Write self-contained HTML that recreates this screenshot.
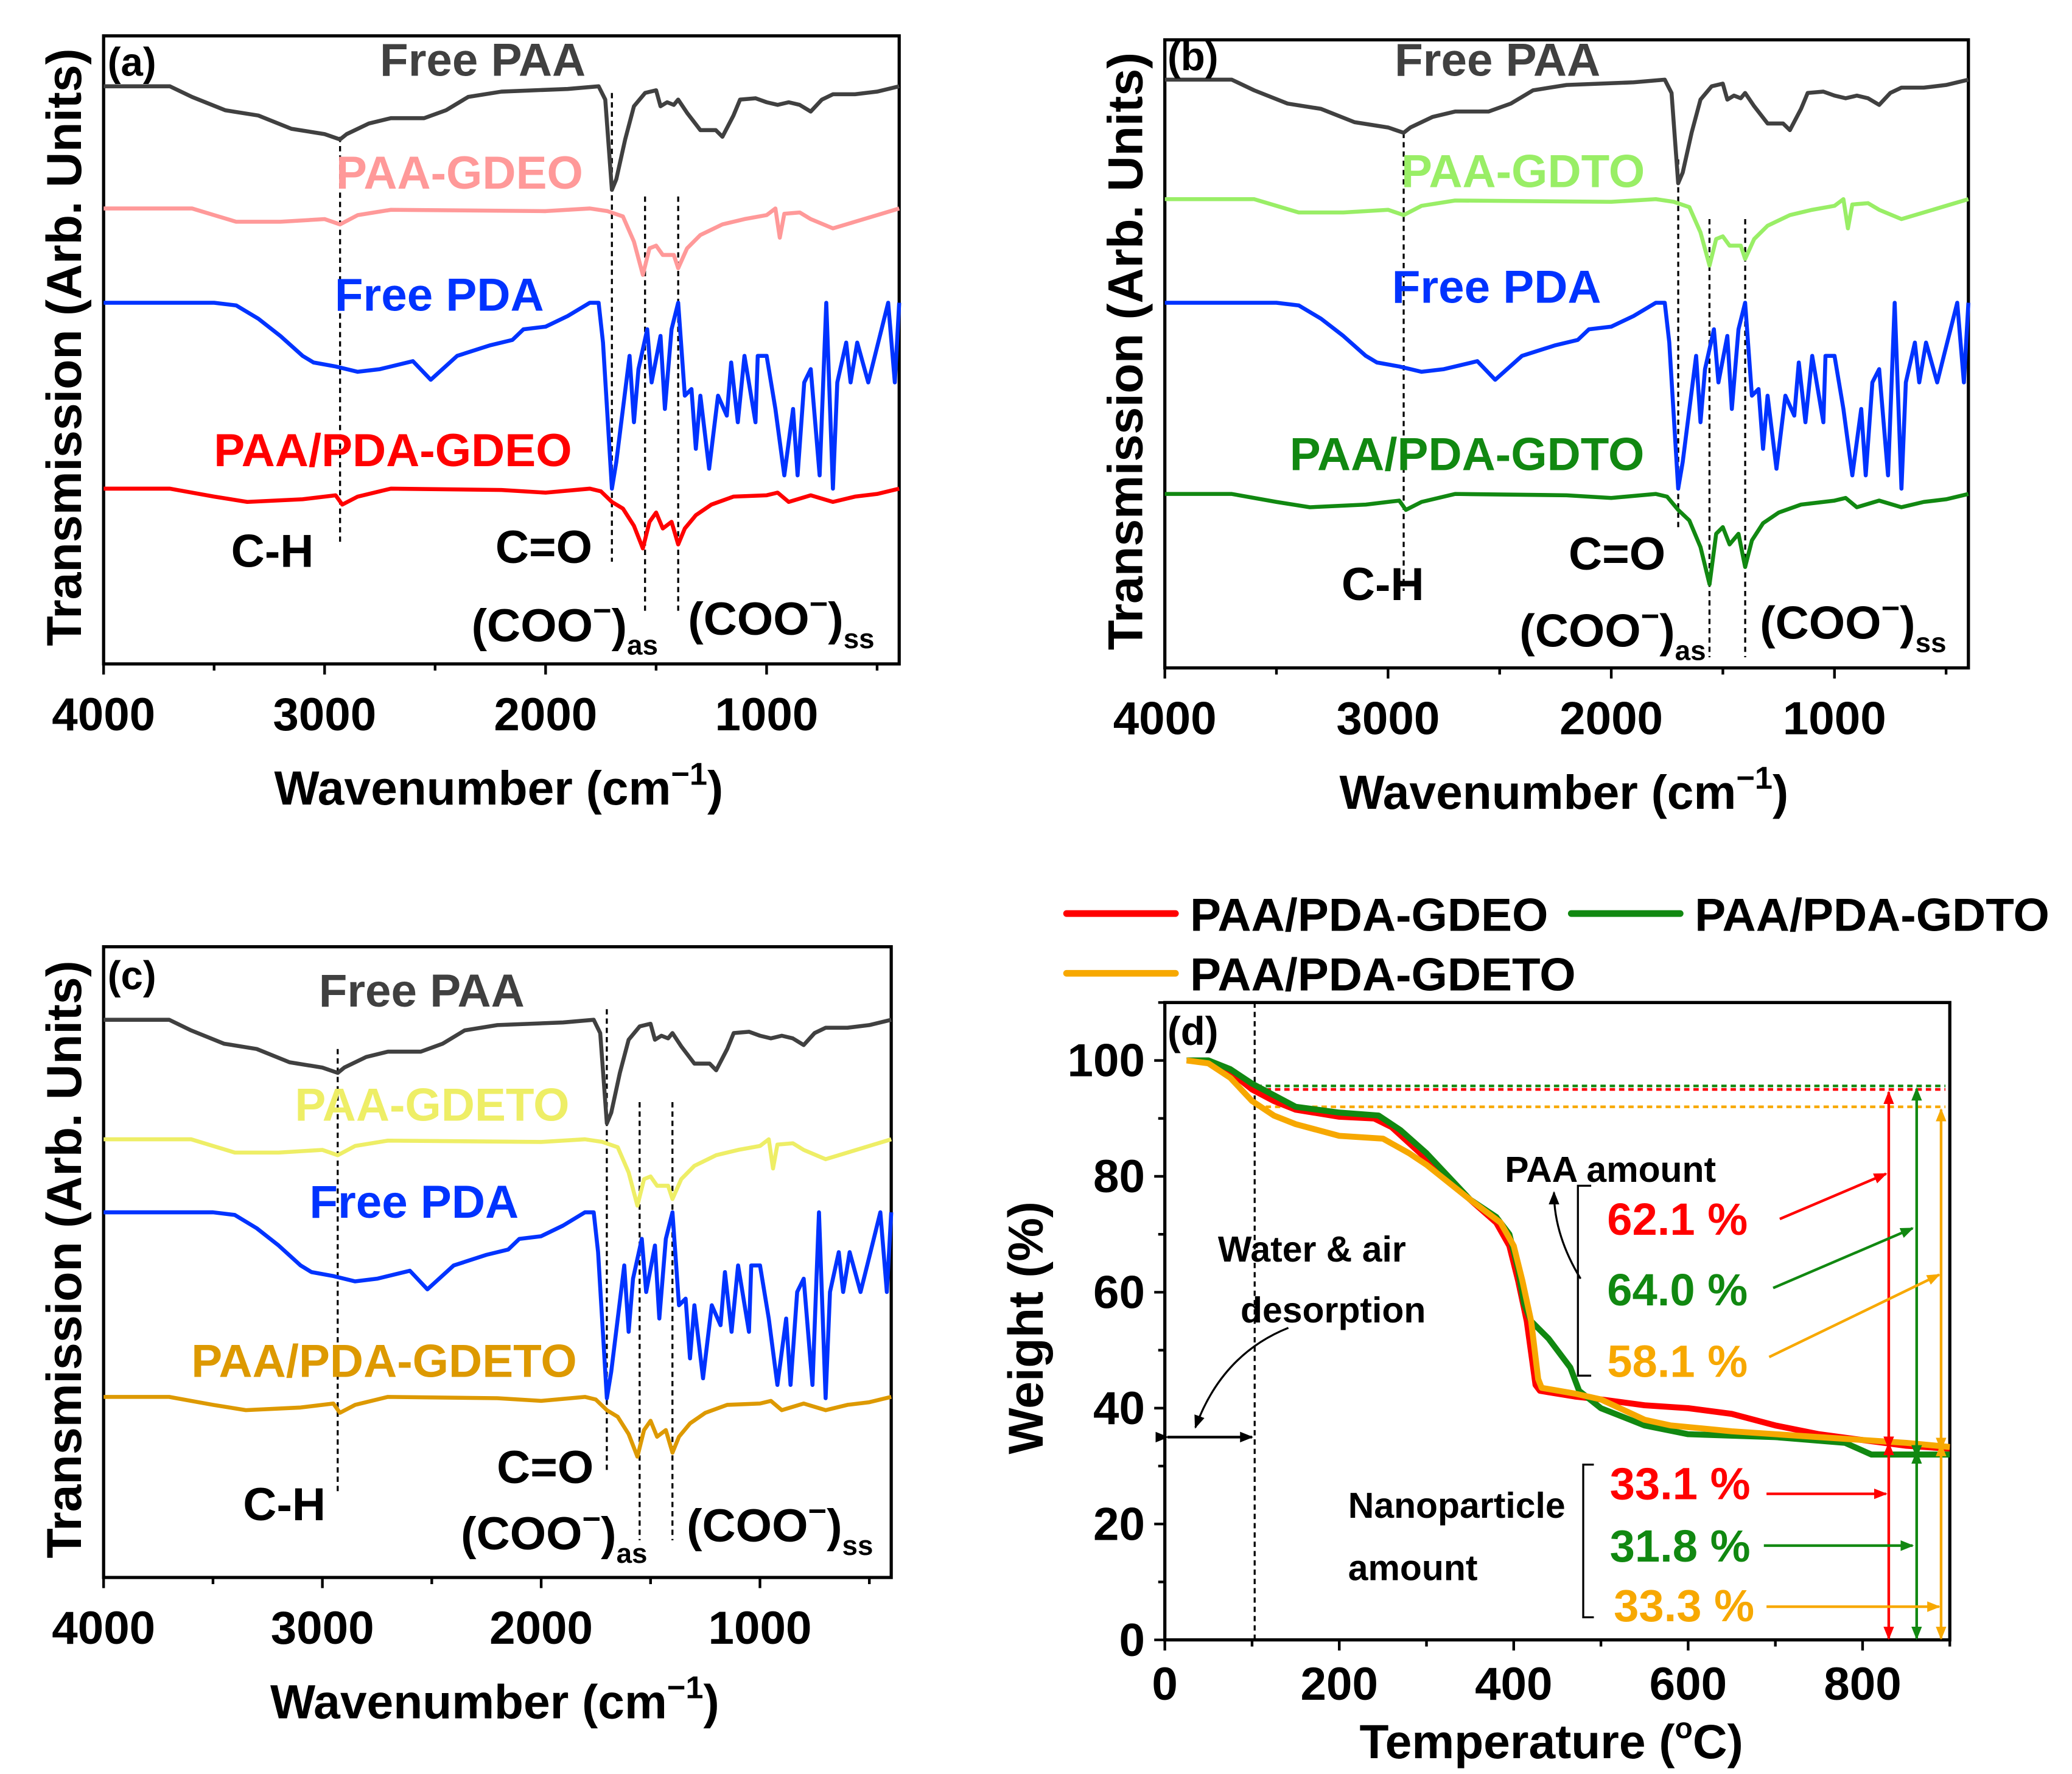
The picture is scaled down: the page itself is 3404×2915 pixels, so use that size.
<!DOCTYPE html>
<html><head><meta charset="utf-8"><title>FTIR and TGA</title>
<style>html,body{margin:0;padding:0;background:#fff}svg{display:block}text{font-family:"Liberation Sans",Arial,sans-serif;font-weight:bold}</style>
</head><body>
<svg id="fig" xmlns="http://www.w3.org/2000/svg" width="3404" height="2915" viewBox="0 0 1560 1336" preserveAspectRatio="none">
<defs>
<marker id="arR" markerWidth="10" markerHeight="10" refX="9" refY="5" orient="auto" markerUnits="userSpaceOnUse"><path d="M0,1 L10,5 L0,9 z" fill="#f00"/></marker>
<marker id="arG" markerWidth="10" markerHeight="10" refX="9" refY="5" orient="auto" markerUnits="userSpaceOnUse"><path d="M0,1 L10,5 L0,9 z" fill="#118811"/></marker>
<marker id="arO" markerWidth="10" markerHeight="10" refX="9" refY="5" orient="auto" markerUnits="userSpaceOnUse"><path d="M0,1 L10,5 L0,9 z" fill="#f7a800"/></marker>
<marker id="arK" markerWidth="10" markerHeight="10" refX="9" refY="5" orient="auto" markerUnits="userSpaceOnUse"><path d="M0,1 L10,5 L0,9 z" fill="#000"/></marker>
</defs>
<g id="layer"></g>
</svg>
<script>
// ---- FTIR data (wavenumber, depth below baseline in arbitrary units) ----
const paaWn = [4000,3700,3600,3450,3300,3150,3000,2930,2900,2800,2700,2550,2450,2350,2200,1900,1760,1730,1700,1680,1640,1600,1550,1500,1480,1450,1420,1400,1360,1300,1230,1200,1150,1120,1050,1000,950,900,850,800,750,700,600,500,400];
const paaDepth = [0,0,8,18,22,32,36,40,36,28,24,24,18,8,4,2,0,10,78,70,40,15,5,3,15,12,14,10,20,33,33,38,22,10,9,12,14,12,14,19,10,6,6,4,0];
const gdeoWn = [4000,3600,3500,3400,3200,3000,2930,2850,2700,2000,1800,1720,1650,1600,1560,1530,1500,1470,1420,1400,1360,1300,1200,1100,1000,960,940,920,850,800,700,600,500,400];
const gdeoDepth = [0,0,5,10,10,8,12,5,1,2,0,2,6,25,50,30,28,35,35,45,30,20,12,8,5,0,22,4,3,8,15,10,5,0];
const pdaWn = [4000,3800,3500,3400,3300,3200,3100,3050,2950,2850,2750,2600,2520,2400,2250,2150,2100,2000,1900,1800,1760,1740,1700,1680,1620,1600,1580,1540,1520,1480,1460,1430,1400,1370,1340,1320,1300,1260,1220,1180,1160,1130,1100,1050,1040,1000,960,920,880,860,830,800,760,730,700,680,640,620,590,540,510,450,420,400];
const pdaDepth = [0,0,0,2,12,25,40,45,48,52,50,44,58,40,32,28,20,18,10,0,0,30,140,120,40,90,50,20,60,25,80,20,0,70,65,110,70,125,70,85,45,90,40,90,40,40,80,130,80,130,60,50,130,0,140,60,30,60,30,60,40,0,60,0];
const compWn = [4000,3700,3500,3350,3100,2950,2920,2850,2700,2200,2000,1800,1750,1700,1650,1600,1560,1530,1500,1470,1430,1400,1370,1320,1250,1150,1000,950,900,800,700,600,500,400];
const compDepthA = [0,0,6,10,8,5,12,6,0,1,3,0,2,10,15,28,45,25,18,30,25,42,30,20,12,6,5,3,10,5,10,6,4,0];
const compDepthB = [0,0,6,10,8,5,12,6,0,1,3,0,2,12,20,40,68,30,25,38,30,55,35,22,14,8,5,3,10,5,10,6,4,0];
const baseA = [65,157,228,368];
const baseB = [60,150,228,372];
const baseC = [768,858,913,1052];
const xTicks = [4000,3000,2000,1000];

// ---- TGA data ----
const tGdeo = [25,50,75,100,125,150,200,240,260,300,350,380,395,405,415,425,430,470,500,550,600,650,700,750,800,850,900];
const wGdeo = [100,99.8,98,95,93,91.5,90.3,90,88.5,83,76,72,68,62,55,44,43,42,41.5,40.5,40,39,37,35.5,34.5,33.5,33];
const tGdto = [25,50,75,100,125,150,200,245,270,300,350,380,395,405,412,420,440,465,475,500,550,600,700,780,810,850,900];
const wGdto = [100,100,98.5,96,94,92,91,90.5,88,84,76,73,70,64,58,55,52,47,43,40,37,35.5,35,34,32,32,32];
const tGdeto = [25,50,75,100,125,150,200,250,280,300,350,385,400,410,420,428,432,470,500,550,580,650,750,850,900];
const wGdeto = [100,99.5,97,93,90.5,89,87,86.5,84,82,76,72,68,62,55,45,43.5,42.5,41.5,38,37,36,35,34,33.3];
const yTicksD = [0,20,40,60,80,100];
const xTicksD = [0,200,400,600,800];

const NS = "http://www.w3.org/2000/svg";
const L = document.getElementById('layer');
function mk(tag, attrs, parent){const e=document.createElementNS(NS,tag);for(const k in attrs)e.setAttribute(k,attrs[k]);(parent||L).appendChild(e);return e;}
function txt(x,y,s,size,fill,anchor){const t=mk('text',{x:x,y:y,'font-size':size,fill:fill||'#000','text-anchor':anchor||'start'});t.textContent=s;return t;}

function ftirPanel(p){
  const xs = wn => p.x0 + (4000-wn)*(p.x1-p.x0)/3600;
  const g = mk('g',{});
  
  
  const fr = mk('rect',{x:p.x0,y:p.y0,width:p.x1-p.x0,height:p.y1-p.y0,fill:'none',stroke:'#000','stroke-width':2.4},g);
  
  
  for(let w=4000; w>=400; w-=500){
    const major = (w%1000===0);
    const tk = mk('line',{x1:xs(w),x2:xs(w),y1:p.y1,y2:p.y1+(major?8:5),stroke:'#000','stroke-width':2},g);
    
    
  }
  xTicks.forEach(w=>{
    const t = txt(xs(w), p.y1+50, String(w), 35, '#000','middle');
    
    
  });
  const xt = txt((p.x0+p.x1)/2-2, p.y1+106, 'Wavenumber (cm', 36, '#000','middle');
  const sup = mk('tspan',{dy:-15,'font-size':24},xt); sup.textContent='\u22121';
  const cl = mk('tspan',{dy:15},xt); cl.textContent=')';
  
  
  const yt = txt(0,0,'Transmission (Arb. Units)',37,'#000','middle');
  yt.setAttribute('transform','translate('+(p.x0-17)+','+((p.y0+p.y1)/2-2)+') rotate(-90)');
  
  
  p.dashes.forEach(d=>{
    const ln = mk('line',{x1:xs(d[0]),x2:xs(d[0]),y1:d[1],y2:d[2],stroke:'#000','stroke-width':1.5,'stroke-dasharray':'4,3'},g);
    
    
  });
  p.series.forEach(s=>{
    let d='';
    s.wn.forEach((w,i)=>{d+=(i?'L':'M')+xs(w).toFixed(1)+','+(s.base+s.depth[i]).toFixed(1);});
    const pa = mk('path',{d:d,fill:'none',stroke:s.color,'stroke-width':3,'stroke-linejoin':'round'},g);
    
    
  });
  p.labels.forEach(l=>{
    const t = txt(l[1],l[2],l[0],l[4]||35,l[3]);
    
    
  });
  p.coo.forEach(c=>{
    const t = txt(c[0],c[1],'(COO',35,'#000');
    const s1 = mk('tspan',{dy:-15,'font-size':24},t); s1.textContent='\u2212';
    const s2 = mk('tspan',{dy:15},t); s2.textContent=')';
    const s3 = mk('tspan',{dy:10,'font-size':21},t); s3.textContent=c[2];
    
    
  });
}

ftirPanel({name:'panel-a',x0:78,x1:677,y0:27,y1:500,
  series:[{id:'paa-gdeo-composite',wn:compWn,depth:compDepthA,base:baseA[3],color:'#ff0000'},
          {id:'free-pda',wn:pdaWn,depth:pdaDepth,base:baseA[2],color:'#0033ff'},
          {id:'paa-gdeo',wn:gdeoWn,depth:gdeoDepth,base:baseA[1],color:'#ff9999'},
          {id:'free-paa',wn:paaWn,depth:paaDepth,base:baseA[0],color:'#404040'}],
  dashes:[[2930,103,410],[1700,70,423],[1550,148,460],[1400,148,460]],
  labels:[['(a)',81,57,'#000',30,'panel-label'],['Free PAA',286,57,'#404040',35,'free-paa-label'],['PAA-GDEO',253,142,'#ff9999',35,'paa-gdeo-label'],['Free PDA',252,234,'#0033ff',35,'free-pda-label'],['PAA/PDA-GDEO',161,351,'#ff0000',35,'paa-pda-gdeo-label'],['C-H',174,427,'#000',35,'ch-label'],['C=O',373,424,'#000',35,'co-label']],
  coo:[[355,483,'as'],[518,478,'ss']]});

ftirPanel({name:'panel-b',x0:877,x1:1482,y0:30,y1:503,
  series:[{id:'paa-gdto-composite',wn:compWn,depth:compDepthB,base:baseB[3],color:'#118811'},
          {id:'free-pda',wn:pdaWn,depth:pdaDepth,base:baseB[2],color:'#0033ff'},
          {id:'paa-gdto',wn:gdeoWn,depth:gdeoDepth,base:baseB[1],color:'#99ee66'},
          {id:'free-paa',wn:paaWn,depth:paaDepth,base:baseB[0],color:'#404040'}],
  dashes:[[2930,100,445],[1700,120,400],[1560,165,495],[1400,165,495]],
  labels:[['(b)',879,53,'#000',30,'panel-label'],['Free PAA',1050,57,'#404040',35,'free-paa-label'],['PAA-GDTO',1055,141,'#99ee66',35,'paa-gdto-label'],['Free PDA',1048,228,'#0033ff',35,'free-pda-label'],['PAA/PDA-GDTO',971,354,'#118811',35,'paa-pda-gdto-label'],['C-H',1010,452,'#000',35,'ch-label'],['C=O',1181,429,'#000',35,'co-label']],
  coo:[[1144,487,'as'],[1325,481,'ss']]});

ftirPanel({name:'panel-c',x0:78,x1:671,y0:713,y1:1188,
  series:[{id:'paa-gdeto-composite',wn:compWn,depth:compDepthA,base:baseC[3],color:'#dd9900'},
          {id:'free-pda',wn:pdaWn,depth:pdaDepth,base:baseC[2],color:'#0033ff'},
          {id:'paa-gdeto',wn:gdeoWn,depth:gdeoDepth,base:baseC[1],color:'#eeee66'},
          {id:'free-paa',wn:paaWn,depth:paaDepth,base:baseC[0],color:'#404040'}],
  dashes:[[2930,790,1125],[1700,760,1110],[1550,830,1160],[1400,830,1160]],
  labels:[['(c)',81,745,'#000',30,'panel-label'],['Free PAA',240,758,'#404040',35,'free-paa-label'],['PAA-GDETO',222,844,'#eeee66',35,'paa-gdeto-label'],['Free PDA',233,917,'#0033ff',35,'free-pda-label'],['PAA/PDA-GDETO',144,1037,'#dd9900',35,'paa-pda-gdeto-label'],['C-H',183,1145,'#000',35,'ch-label'],['C=O',374,1117,'#000',35,'co-label']],
  coo:[[347,1167,'as'],[517,1161,'ss']]});

// ---- Panel d (TGA) ----
(function(){
  const x0=877,x1=1468,y0=755,y1=1235;
  const xs = t => x0 + t*(x1-x0)/900;
  const ys = w => y1 - w*(y1-y0)/110;
  const g = mk('g',{});
  
  
  const fr = mk('rect',{x:x0,y:y0,width:x1-x0,height:y1-y0,fill:'none',stroke:'#000','stroke-width':2.4},g);
  
  
  for(let v=0; v<=110; v+=10){
    const tk = mk('line',{x1:x0-(v%20===0?8:5),x2:x0,y1:ys(v),y2:ys(v),stroke:'#000','stroke-width':2},g);
    
    
  }
  for(let v=0; v<=900; v+=100){
    const tk = mk('line',{x1:xs(v),x2:xs(v),y1:y1,y2:y1+(v%200===0?8:5),stroke:'#000','stroke-width':2},g);
    
    
  }
  yTicksD.forEach(v=>{const t=txt(x0-15,ys(v)+12,String(v),35,'#000','end');});
  xTicksD.forEach(v=>{const t=txt(xs(v),y1+45,String(v),35,'#000','middle');});
  const xt = txt(1168,1324,'Temperature (',36,'#000','middle');
  const s1 = mk('tspan',{dy:-15,'font-size':22},xt); s1.textContent='o';
  const s2 = mk('tspan',{dy:15},xt); s2.textContent='C)';
  
  
  const yt = txt(0,0,'Weight (%)',37,'#000','middle');
  yt.setAttribute('transform','translate(785,1000) rotate(-90)');
  
  
  const pl = txt(879,787,'(d)',30,'#000');  
  const dl = mk('line',{x1:xs(103),x2:xs(103),y1:y0,y2:y1,stroke:'#000','stroke-width':1.5,'stroke-dasharray':'4,3'},g);
   
  const hLines=[[95.6,'#118811'],[95,'#ff0000'],[92,'#f7a800']];
  hLines.forEach(h=>{const l=mk('line',{x1:xs(105),x2:xs(895),y1:ys(h[0]),y2:ys(h[0]),stroke:h[1],'stroke-width':2,'stroke-dasharray':'4,3'},g);});
  const series=[[tGdeto,wGdeto,'#f7a800','paa-pda-gdeto'],[tGdeo,wGdeo,'#ff0000','paa-pda-gdeo'],[tGdto,wGdto,'#118811','paa-pda-gdto']];
  [series[1],series[2],series[0]].forEach(s=>{
    let d=''; s[0].forEach((t,i)=>{d+=(i?'L':'M')+xs(t).toFixed(1)+','+ys(s[1][i]).toFixed(1);});
    const p=mk('path',{d:d,fill:'none',stroke:s[2],'stroke-width':4.5,'stroke-linejoin':'round'},g);
     
  });
  const va=[[830,95,33.5,'#ff0000','R'],[862,95.6,32,'#118811','G'],[890,92,33.3,'#f7a800','O']];
  va.forEach(a=>{
    const l1=mk('line',{x1:xs(a[0]),x2:xs(a[0]),y1:ys(a[2])-2,y2:ys(a[1])+2,stroke:a[3],'stroke-width':2,'marker-start':'url(#ar'+a[4]+')','marker-end':'url(#ar'+a[4]+')'},g);
     
    const l2=mk('line',{x1:xs(a[0]),x2:xs(a[0]),y1:ys(a[2])+2,y2:ys(0)-1,stroke:a[3],'stroke-width':2,'marker-start':'url(#ar'+a[4]+')','marker-end':'url(#ar'+a[4]+')'},g);
     
  });
  const da=mk('line',{x1:x0+2,x2:xs(103)-2,y1:ys(35),y2:ys(35),stroke:'#000','stroke-width':2,'marker-start':'url(#arK)','marker-end':'url(#arK)'},g);
   
  const ca=mk('path',{d:'M970,1000 Q920,1020 900,1075',fill:'none',stroke:'#000','stroke-width':1.5,'marker-end':'url(#arK)'},g);
   
  const cb=mk('path',{d:'M1190,963 Q1170,930 1170,898',fill:'none',stroke:'#000','stroke-width':1.5,'marker-end':'url(#arK)'},g);
   
  const br1=mk('path',{d:'M1198,893 L1188,893 L1188,1036 L1198,1036',fill:'none',stroke:'#000','stroke-width':1.5},g);
   
  const br2=mk('path',{d:'M1200,1103 L1192,1103 L1192,1218 L1200,1218',fill:'none',stroke:'#000','stroke-width':1.5},g);
   
  const labels=[['Water & air',917,950,'#000',27,'water-air-label'],['desorption',934,996,'#000',27,'desorption-label'],['PAA amount',1133,890,'#000',27,'paa-amount-label'],
    ['62.1 %',1210,930,'#ff0000',34,'gdeo-paa-value'],['64.0 %',1210,983,'#118811',34,'gdto-paa-value'],['58.1 %',1210,1037,'#f7a800',34,'gdeto-paa-value'],
    ['Nanoparticle',1015,1143,'#000',27,'nanoparticle-label'],['amount',1015,1190,'#000',27,'amount-label'],
    ['33.1 %',1212,1129,'#ff0000',34,'gdeo-np-value'],['31.8 %',1212,1176,'#118811',34,'gdto-np-value'],['33.3 %',1215,1221,'#f7a800',34,'gdeto-np-value']];
  labels.forEach(l=>{const t=txt(l[1],l[2],l[0],l[4],l[3]);});
  const arrs=[[1340,918,1420,884,'R'],[1335,970,1440,925,'G'],[1332,1022,1460,960,'O'],[1330,1125,1420,1125,'R'],[1328,1164,1440,1164,'G'],[1330,1210,1460,1210,'O']];
  arrs.forEach(a=>{const cols={R:'#ff0000',G:'#118811',O:'#f7a800'};const l=mk('line',{x1:a[0],y1:a[1],x2:a[2],y2:a[3],stroke:cols[a[4]],'stroke-width':2,'marker-end':'url(#ar'+a[4]+')'},g);});
  const leg=[[803,688,'#ff0000','PAA/PDA-GDEO'],[1183,688,'#118811','PAA/PDA-GDTO'],[803,733,'#f7a800','PAA/PDA-GDETO']];
  leg.forEach(e=>{
    const lg=mk('g',{});
     
    mk('line',{x1:e[0],x2:e[0]+82,y1:e[1],y2:e[1],stroke:e[2],'stroke-width':5,'stroke-linecap':'round'},lg);
    const t=txt(e[0]+93,e[1]+13,e[3],35,'#000'); lg.appendChild(t);
  });
})();
</script>
</body></html>
